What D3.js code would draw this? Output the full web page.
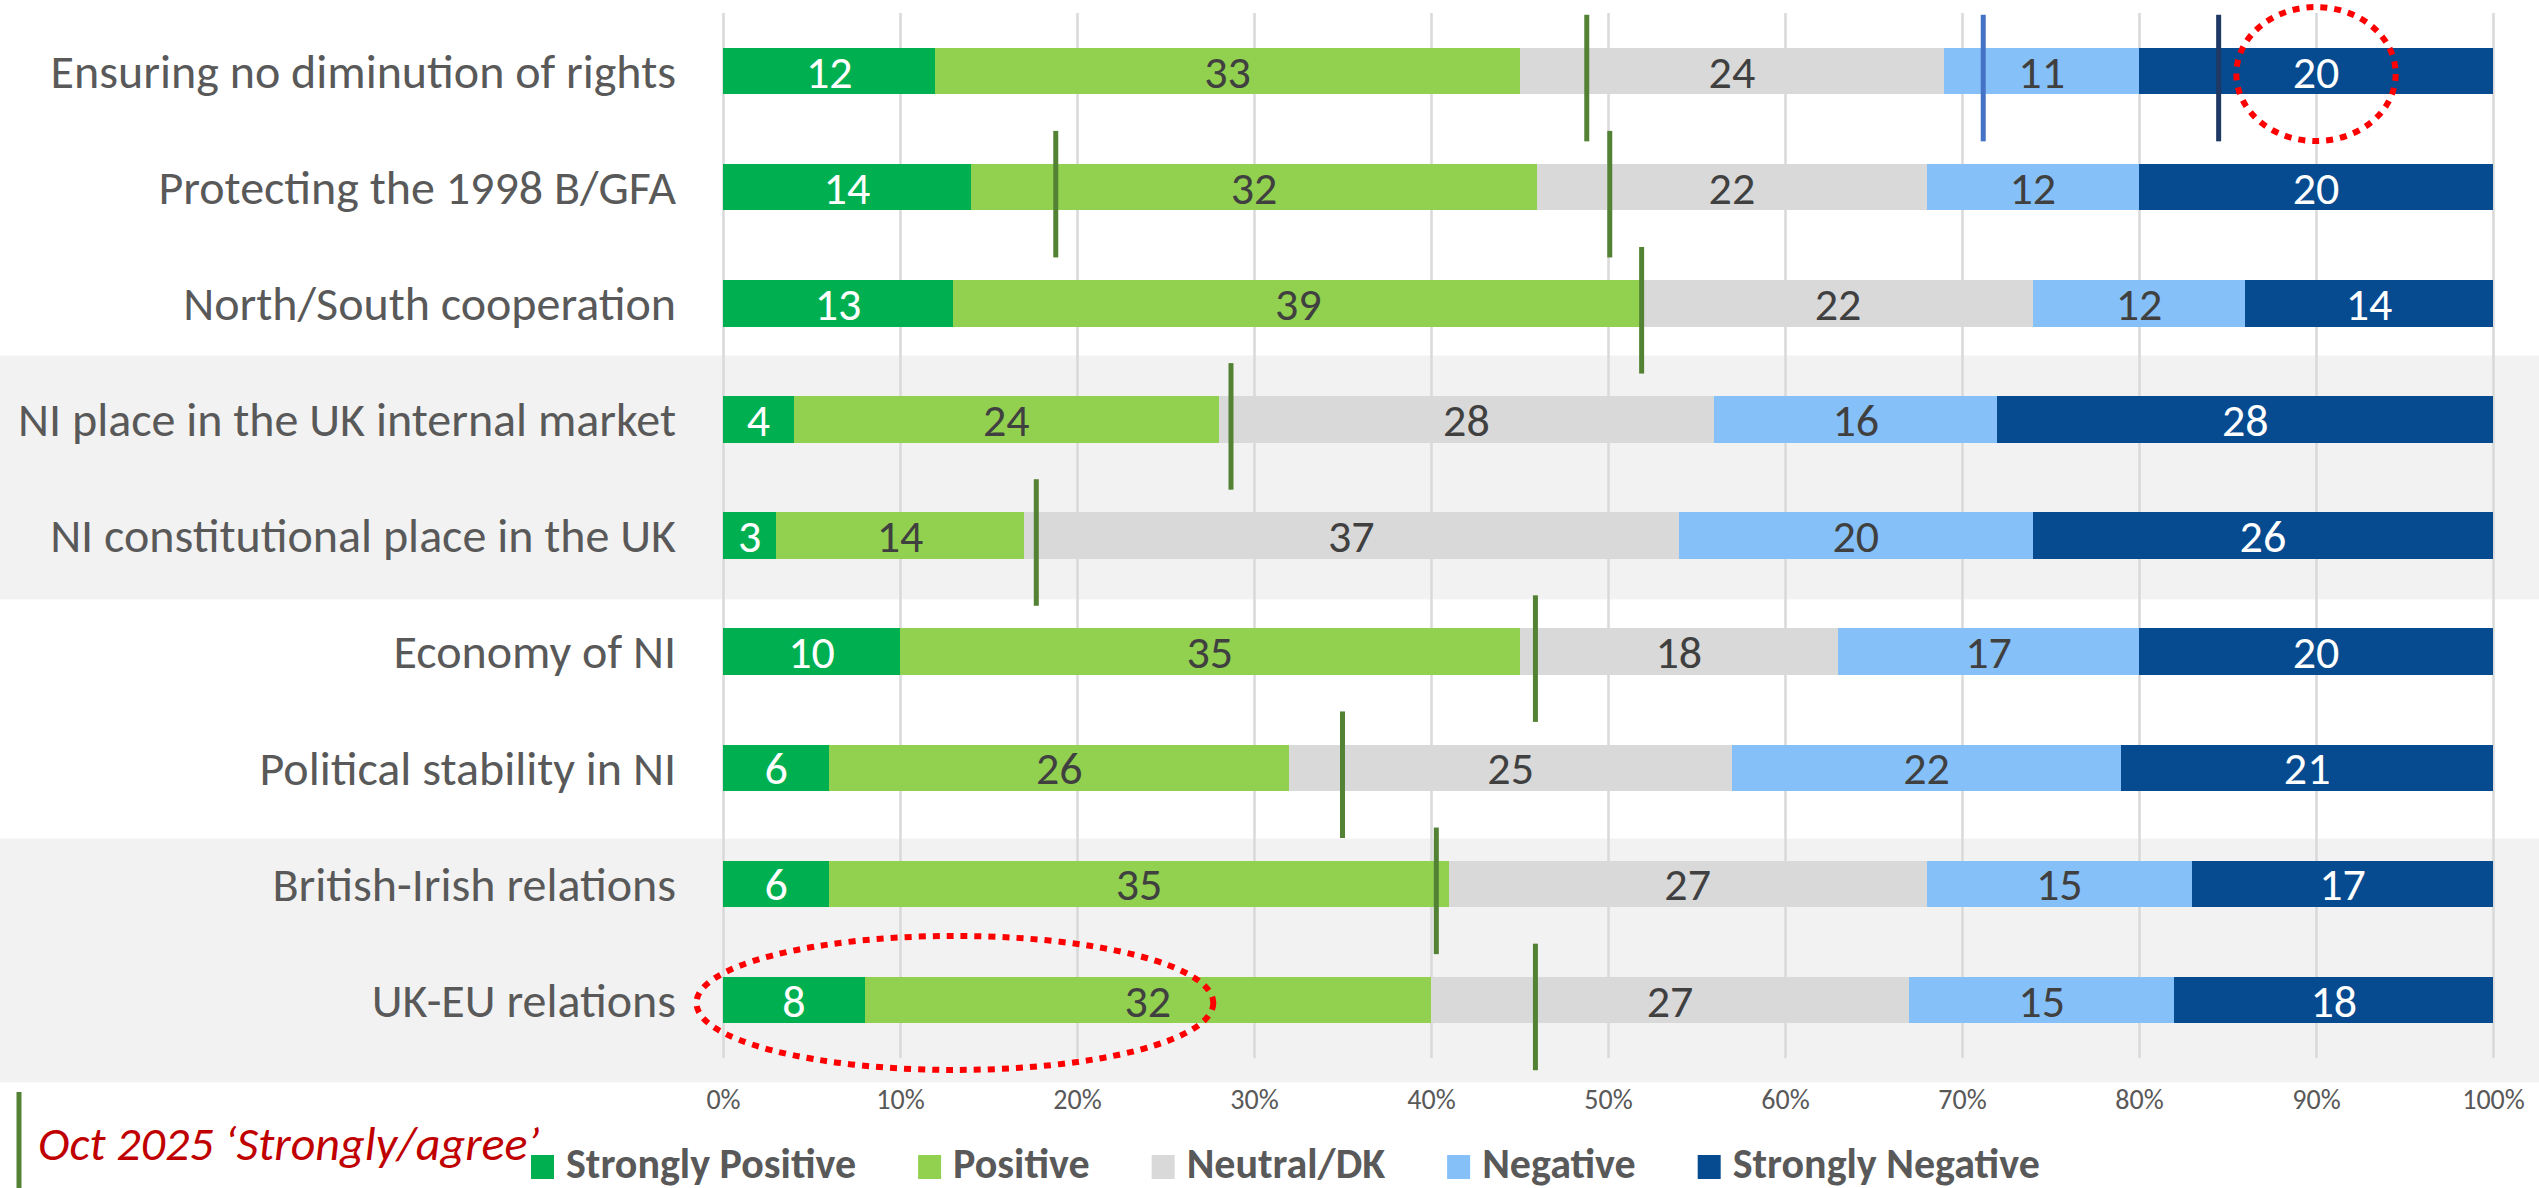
<!DOCTYPE html>
<html>
<head>
<meta charset="utf-8">
<script src="https://cdn.jsdelivr.net/npm/d3@7"></script>
<style>
  body { margin: 0; background: #fff; }
  svg { display: block; font-family: Carlito, Calibri, Lato, sans-serif; }
</style>
</head>
<body>
<svg id="chart"></svg>
<script>
const categories = [
  "Ensuring no diminution of rights",
  "Protecting the 1998 B/GFA",
  "North/South cooperation",
  "NI place in the UK internal market",
  "NI constitutional place in the UK",
  "Economy of NI",
  "Political stability in NI",
  "British-Irish relations",
  "UK-EU relations"
];
const seriesNames = ["Strongly Positive", "Positive", "Neutral/DK", "Negative", "Strongly Negative"];
const stronglyPositive = [12, 14, 13, 4, 3, 10, 6, 6, 8];
const positive = [33, 32, 39, 24, 14, 35, 26, 35, 32];
const neutral = [24, 22, 22, 28, 37, 18, 25, 27, 27];
const negative = [11, 12, 12, 16, 20, 17, 22, 15, 15];
const stronglyNegative = [20, 20, 14, 28, 26, 20, 21, 17, 18];
// Oct 2025 'Strongly/agree' markers: [row, value]
const octMarkers = [[0, 48.8], [1, 18.8], [1, 50.1], [2, 51.9], [3, 28.7], [4, 17.7], [5, 45.9], [6, 35.0], [7, 40.3], [8, 45.9]];
const blueMarkers = [[0, 71.2]];
const navyMarkers = [[0, 84.5]];
const xTicks = [0, 10, 20, 30, 40, 50, 60, 70, 80, 90, 100];
const shadedRows = [[3, 4], [7, 8]];
// red dotted highlight: [row, from %, to %]
const highlights = [[0, 85.5, 94.5], [8, -1.5, 27.7]];

const W = 2539, H = 1188;
const colors = ["#00B050", "#92D050", "#D9D9D9", "#86C0F9", "#064A8F"];
const labelColors = ["#ffffff", "#404040", "#404040", "#404040", "#ffffff"];

const svg = d3.select("#chart").attr("width", W).attr("height", H);

const x = d3.scaleLinear().domain([0, 100]).range([723, 2493]);
const y = d3.scaleBand().domain(d3.range(categories.length)).range([13, 1058])
  .paddingInner(0.6).paddingOuter(0.3);
const step = y.step();
const cy = i => y(i) + y.bandwidth() / 2;

// shaded row groups
svg.append("g").selectAll("rect")
  .data(shadedRows)
  .join("rect")
  .attr("x", 0)
  .attr("width", W)
  .attr("y", (d, i) => cy(d[0]) - step * 0.55 + (i === 1 ? step * 0.16 : 0))
  .attr("height", d => cy(d[1]) - cy(d[0]) + step * 1.1)
  .attr("fill", "#F2F2F2");

// gridlines + tick labels
const xAxis = d3.axisBottom(x).tickValues(xTicks).tickFormat(d => d + "%")
  .tickSizeInner(-(1058 - 13)).tickSizeOuter(0).tickPadding(31);
svg.append("g")
  .attr("transform", `translate(0,1058)`)
  .call(xAxis)
  .call(g => g.select(".domain").remove())
  .call(g => g.selectAll(".tick line").attr("stroke", "#D9D9D9").attr("stroke-width", 2.5))
  .call(g => g.selectAll(".tick text").attr("fill", "#595959").attr("font-size", 28)
    .attr("font-family", "Carlito, Calibri, Lato, sans-serif"));

// stacked bars
const rows = categories.map((c, i) => ({
  i, vals: [stronglyPositive[i], positive[i], neutral[i], negative[i], stronglyNegative[i]]
}));
const segs = [];
rows.forEach(r => {
  let acc = 0;
  r.vals.forEach((v, k) => { segs.push({ row: r.i, k, v, x0: acc, x1: acc + v }); acc += v; });
});

svg.append("g").selectAll("rect")
  .data(segs)
  .join("rect")
  .attr("x", d => x(d.x0))
  .attr("width", d => x(d.x1) - x(d.x0))
  .attr("y", d => y(d.row))
  .attr("height", y.bandwidth())
  .attr("fill", d => colors[d.k])
  .attr("shape-rendering", "crispEdges");

svg.append("g").selectAll("text")
  .data(segs)
  .join("text")
  .attr("x", d => x((d.x0 + d.x1) / 2))
  .attr("y", d => cy(d.row))
  .attr("dy", "0.36em")
  .attr("text-anchor", "middle")
  .attr("font-size", 46)
  .attr("fill", d => labelColors[d.k])
  .text(d => d.v);

// category labels
svg.append("g").selectAll("text")
  .data(categories)
  .join("text")
  .attr("x", 676)
  .attr("y", (d, i) => cy(i))
  .attr("dy", "0.35em")
  .attr("text-anchor", "end")
  .attr("font-size", 48)
  .attr("fill", "#595959")
  .text(d => d);

// markers
function drawMarkers(data, color) {
  svg.append("g").selectAll("line")
    .data(data)
    .join("line")
    .attr("x1", d => x(d[1])).attr("x2", d => x(d[1]))
    .attr("y1", d => cy(d[0]) + 7 - step * 0.545)
    .attr("y2", d => cy(d[0]) + 7 + step * 0.545)
    .attr("stroke", color)
    .attr("stroke-width", 5);
}
drawMarkers(octMarkers, "#548235");
drawMarkers(blueMarkers, "#4472C4");
drawMarkers(navyMarkers, "#1F3864");

// red dotted highlights
svg.append("g").selectAll("ellipse")
  .data(highlights)
  .join("ellipse")
  .attr("cx", d => (x(d[1]) + x(d[2])) / 2)
  .attr("cy", d => cy(d[0]) + 3)
  .attr("rx", d => (x(d[2]) - x(d[1])) / 2)
  .attr("ry", 67)
  .attr("fill", "none")
  .attr("stroke", "#FF0000")
  .attr("stroke-width", 6)
  .attr("stroke-dasharray", "7,7");

// marker legend
svg.append("line")
  .attr("x1", 19).attr("x2", 19).attr("y1", 1092).attr("y2", H)
  .attr("stroke", "#548235").attr("stroke-width", 5);
svg.append("text")
  .attr("x", 38).attr("y", 1160)
  .attr("font-size", 48).attr("font-style", "italic").attr("fill", "#C00000")
  .text("Oct 2025 \u2018Strongly/agree\u2019");

// series legend
const legend = svg.append("g");
let lx = 531;
seriesNames.forEach((name, k) => {
  legend.append("rect").attr("x", lx).attr("y", 1155).attr("width", 23).attr("height", 24)
    .attr("fill", colors[k]);
  const t = legend.append("text").attr("x", lx + 35).attr("y", 1178)
    .attr("font-size", 42).attr("font-weight", "bold").attr("fill", "#595959")
    .text(name);
  lx += 35 + t.node().getComputedTextLength() + 62;
});
</script>
</body>
</html>
